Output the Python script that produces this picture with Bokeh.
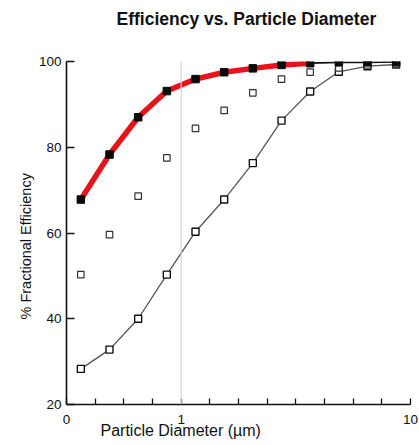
from bokeh.plotting import figure
from bokeh.models import FixedTicker, Span, Range1d, Title
from bokeh.embed import file_html
from bokeh.resources import INLINE

# --- data ---
x_pos = [0.5, 1.5, 2.5, 3.5, 4.5, 5.5, 6.5, 7.5, 8.5, 9.5, 10.5, 11.5]
top_eff = [67.8, 78.3, 87.0, 93.1, 95.9, 97.5, 98.4, 99.2, 99.6, 99.8, 99.8, 99.9]
mid_eff = [50.3, 59.6, 68.6, 77.5, 84.4, 88.6, 92.7, 95.9, 97.5, 98.5, 99.2, 99.5]
low_eff = [28.3, 32.8, 40.0, 50.3, 60.3, 67.8, 76.3, 86.2, 93.0, 97.6, 98.9, 99.3]
x_ticks = [0, 1, 2, 3, 4, 5, 6, 7, 8, 9, 10, 11, 12]
x_tick_labels = {0: "0", 4: "1", 12: "10"}
y_ticks = [20, 40, 60, 80, 100]
title_text = "Efficiency vs. Particle Diameter"
x_title = "Particle Diameter (µm)"
y_title = "% Fractional Efficiency"

FONT = "Liberation Sans"
INK = "#111111"

p = figure(width=418, height=443, output_backend="svg", toolbar_location=None,
           x_range=Range1d(0, 12), y_range=Range1d(20, 100),
           min_border_left=66, min_border_right=8, min_border_top=61, min_border_bottom=39)

p.outline_line_color = None
p.xgrid.visible = False
p.ygrid.visible = False
p.background_fill_color = "white"
p.border_fill_color = "white"

# axes
p.xaxis.ticker = FixedTicker(ticks=x_ticks)
overrides = {k: "" for k in x_ticks}
overrides.update(x_tick_labels)
p.xaxis.major_label_overrides = overrides
p.yaxis.ticker = FixedTicker(ticks=y_ticks)
for ax in (p.xaxis, p.yaxis):
    ax.minor_tick_in = 0
    ax.minor_tick_out = 0
    ax.major_tick_out = 0
    ax.axis_line_width = 1.6
    ax.axis_line_color = INK
    ax.major_tick_line_color = INK
    ax.major_tick_line_width = 1.3
    ax.major_label_text_font = FONT
    ax.major_label_text_font_size = "13.5px"
    ax.major_label_text_color = INK
p.xaxis.major_tick_in = 6
p.yaxis.major_tick_in = 8
p.xaxis.major_label_standoff = 10
p.yaxis.major_label_standoff = 5

# titles placed in the side panels
p.add_layout(Title(text=" ", text_font_size="1px", standoff=28), "above")
p.add_layout(Title(text=title_text, text_font=FONT, text_font_size="17.5px",
                   text_font_style="bold", text_color=INK, align="left",
                   offset=50, standoff=4), "above")
p.add_layout(Title(text=x_title, text_font=FONT, text_font_size="16px",
                   text_font_style="normal", text_color=INK, align="left",
                   vertical_align="top", offset=34, standoff=-10), "below")
p.add_layout(Title(text=y_title, text_font=FONT, text_font_size="14.5px",
                   text_font_style="normal", text_color=INK, align="left",
                   offset=85, standoff=3), "left")

# vertical reference line at 1 µm
p.add_layout(Span(location=4, dimension="height", line_color="#d4d4d4", line_width=1.2))

# lower curve
p.line(x_pos, low_eff, line_color="#555555", line_width=1.3)
p.scatter(x_pos, low_eff, marker="square", size=7, fill_color="white",
          line_color=INK, line_width=1.4)

# middle series (markers only)
p.scatter(x_pos, mid_eff, marker="square", size=6.5, fill_color="white",
          line_color="#333333", line_width=1.2)

# top curve
p.line(x_pos[8:], top_eff[8:], line_color=INK, line_width=1.8)
p.line(x_pos[:9], top_eff[:9], line_color="#e8141c", line_width=5.5)
p.scatter(x_pos, top_eff, marker="square", size=7.5, fill_color="#0a0a0a",
          line_color="#0a0a0a")

open("out.html", "w").write(file_html(p, INLINE))
